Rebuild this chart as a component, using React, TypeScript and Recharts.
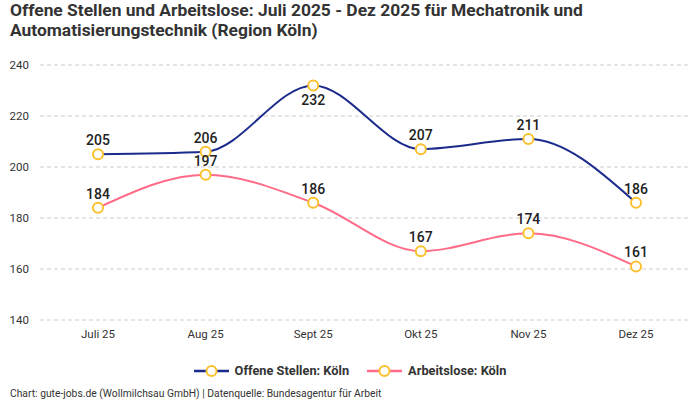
import React from 'react';
import { LineChart, Line, XAxis, YAxis, CartesianGrid, LabelList } from 'recharts';

const categories = ['Juli 25', 'Aug 25', 'Sept 25', 'Okt 25', 'Nov 25', 'Dez 25'];
const offeneStellen = [205, 206, 232, 207, 211, 186];
const arbeitslose = [184, 197, 186, 167, 174, 161];
const offeneLabelPos = ['top', 'top', 'bottom', 'top', 'top', 'top'];
const arbeitsloseLabelPos = ['top', 'top', 'top', 'top', 'top', 'top'];
const yTicks = [140, 160, 180, 200, 220, 240];

const seriesNames = ['Offene Stellen: Köln', 'Arbeitslose: Köln'];
const BLUE = '#1b2b8c';
const PINK = '#ff6b88';
const YELLOW = '#fbc02d';
const FONT = 'Roboto, "Noto Sans", sans-serif';

const data = categories.map((c, i) => ({
  name: c,
  offene: offeneStellen[i],
  arbeitslose: arbeitslose[i],
}));

const makeLabel = (positions: string[]) => (props: any) => {
  const { x, y, value, index } = props;
  const below = positions[index] === 'bottom';
  return (
    <text
      x={x}
      y={below ? y + 15 : y - 14}
      textAnchor="middle"
      dominantBaseline="central"
      fontSize={14}
      fontWeight={500}
      fill="#222"
      fontFamily={FONT}
    >
      {value}
    </text>
  );
};

const LegendBox = () => {
  const items = [
    { name: seriesNames[0], color: BLUE },
    { name: seriesNames[1], color: PINK },
  ];
  return (
    <div
      style={{
        position: 'absolute',
        left: 0,
        top: 363,
        width: 700,
        display: 'flex',
        justifyContent: 'center',
        gap: 18,
        fontFamily: FONT,
      }}
    >
      {items.map((it) => (
        <div key={it.name} style={{ display: 'flex', alignItems: 'center' }}>
          <svg width={35} height={16} style={{ marginRight: 6, display: 'block' }}>
            <line x1={0} y1={8} x2={35} y2={8} stroke={it.color} strokeWidth={2.5} />
            <circle cx={17.5} cy={8} r={5} fill="#fff" stroke={YELLOW} strokeWidth={2} />
          </svg>
          <span style={{ fontSize: 12.8, fontWeight: 700, color: '#333', lineHeight: '16px' }}>{it.name}</span>
        </div>
      ))}
    </div>
  );
};

export default function App() {
  return (
    <div style={{ position: 'absolute', left: 0, top: 0, width: 700, height: 400, background: '#fff', fontFamily: FONT }}>
      <div
        style={{
          position: 'absolute',
          left: 10,
          top: 0,
          width: 680,
          fontSize: 17.4,
          fontWeight: 700,
          lineHeight: '20px',
          color: '#333',
        }}
      >
        Offene Stellen und Arbeitslose: Juli 2025 - Dez 2025 für Mechatronik und Automatisierungstechnik (Region Köln)
      </div>
      <div style={{ position: 'absolute', left: 0, top: 0 }}>
        <LineChart width={700} height={400} data={data} margin={{ top: 65, right: 10, bottom: 50, left: 0 }}>
          <CartesianGrid vertical={false} stroke="#cccccc" strokeDasharray="4 3" />
          <XAxis
            dataKey="name"
            axisLine={false}
            tickLine={false}
            tickSize={0}
            tickMargin={10}
            height={30}
            padding={{ left: 58, right: 54 }}
            interval={0}
            tick={{ fontSize: 11.5, fill: '#333', fontFamily: FONT }}
          />
          <YAxis
            domain={[140, 240]}
            ticks={yTicks}
            axisLine={false}
            tickLine={false}
            tickSize={0}
            tickMargin={11}
            width={40}
            tick={{ fontSize: 11.5, fill: '#333', fontFamily: FONT }}
          />
          <Line
            type="monotone"
            dataKey="offene"
            name={seriesNames[0]}
            stroke={BLUE}
            strokeWidth={2}
            dot={{ r: 5, fill: '#fff', stroke: YELLOW, strokeWidth: 2 }}
            activeDot={false}
            isAnimationActive={false}
          >
            <LabelList dataKey="offene" content={makeLabel(offeneLabelPos)} />
          </Line>
          <Line
            type="monotone"
            dataKey="arbeitslose"
            name={seriesNames[1]}
            stroke={PINK}
            strokeWidth={2}
            dot={{ r: 5, fill: '#fff', stroke: YELLOW, strokeWidth: 2 }}
            activeDot={false}
            isAnimationActive={false}
          >
            <LabelList dataKey="arbeitslose" content={makeLabel(arbeitsloseLabelPos)} />
          </Line>
        </LineChart>
      </div>
      <LegendBox />
      <div style={{ position: 'absolute', left: 10, top: 387, fontSize: 10.3, color: '#333', fontFamily: FONT }}>
        Chart: gute-jobs.de (Wollmilchsau GmbH) | Datenquelle: Bundesagentur für Arbeit
      </div>
    </div>
  );
}
